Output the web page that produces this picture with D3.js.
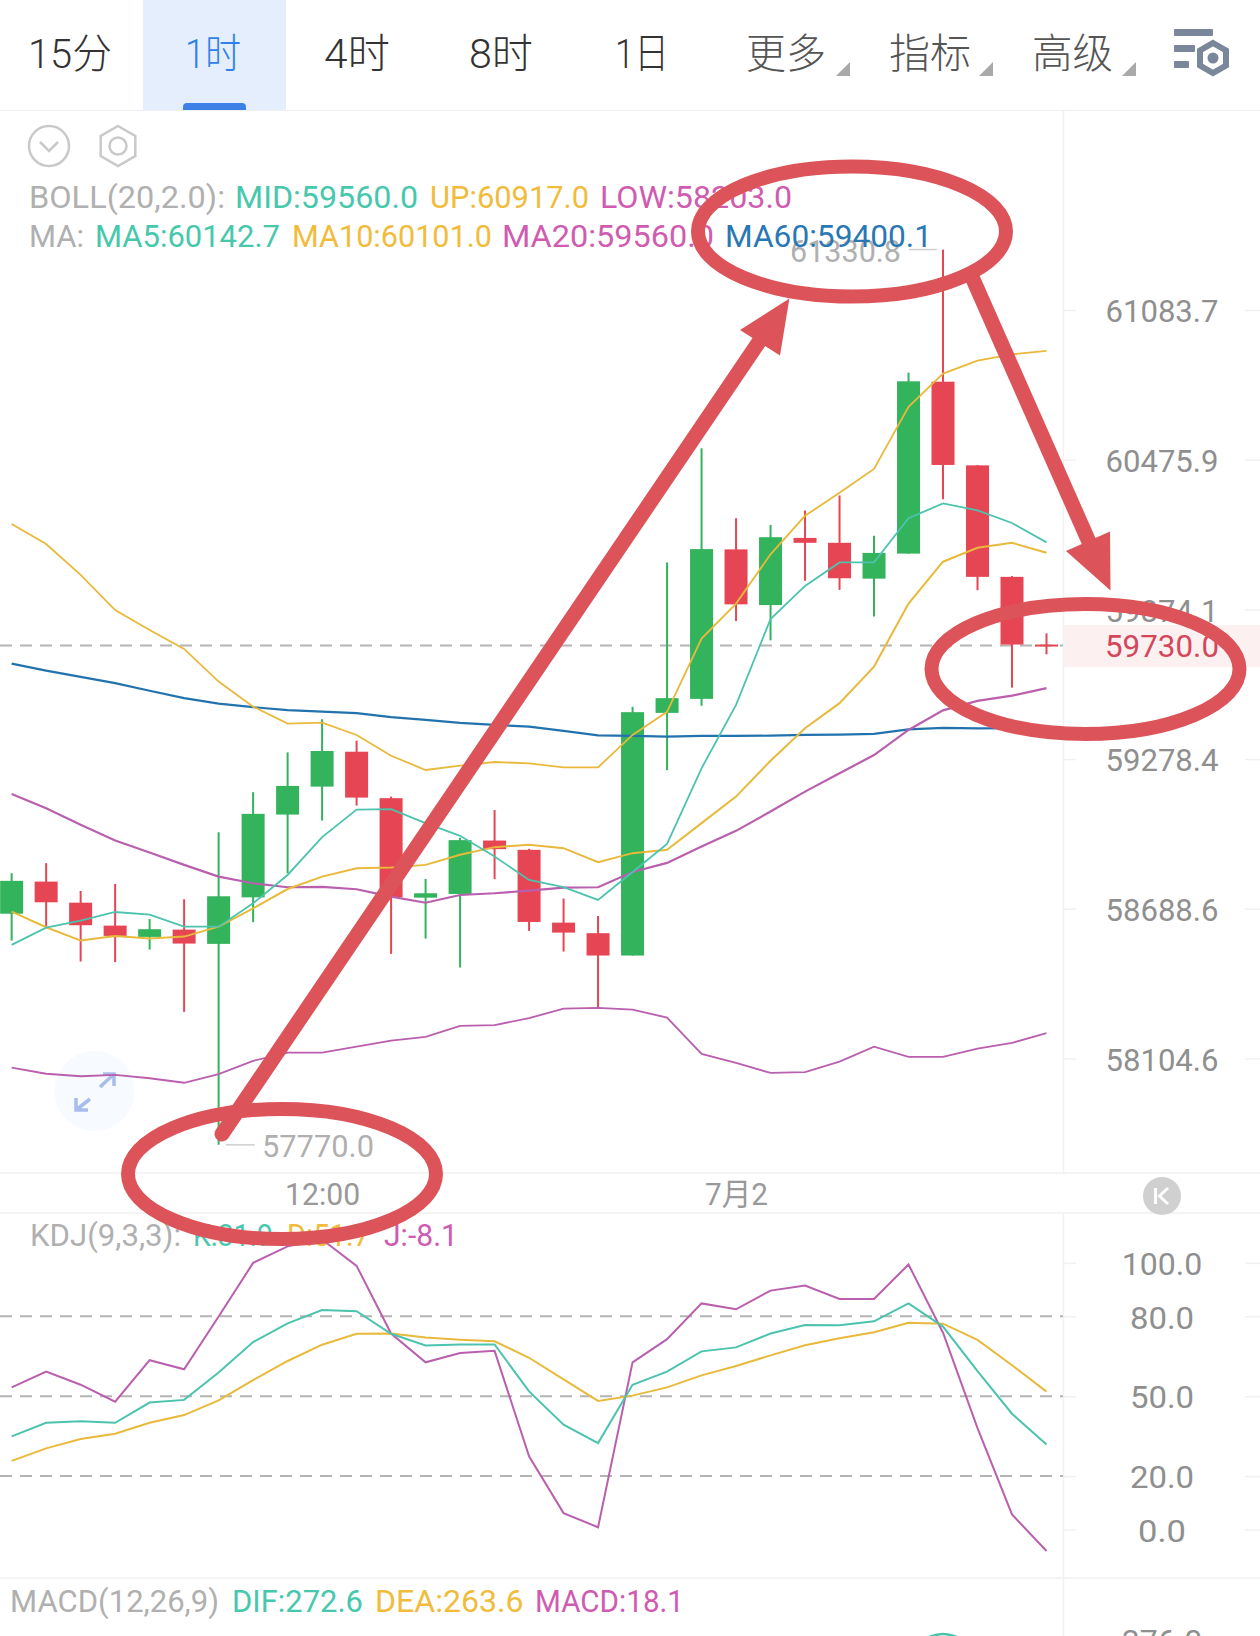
<!DOCTYPE html>
<html lang="zh">
<head>
<meta charset="utf-8">
<title>BTC 1时 K线</title>
<script src="https://cdn.jsdelivr.net/npm/d3@7"></script>
<style>
  html, body { margin: 0; padding: 0; background: #fff; overflow: hidden; }
  svg { display: block; font-family: Roboto, "Noto Sans CJK SC", sans-serif; }
  text { font-weight: 400; }
</style>
</head>
<body>
<svg id="chart" width="1260" height="1636"></svg>
<script>
// Candles, oldest first
const opens  = [58669,58795,58712.2,58622.3,58578.2,58606.7,58550.9,58733.2,59058.9,59169.3,59307.4,59123.6,58731.9,58746.5,58956.5,58919.9,58634,58592.7,58505.3,59461.5,59517.2,60114.5,59891.4,60160.7,60141,59997.1,60097.6,60791.8,60453,60004.3,59733.6];
const highs  = [58828,58867.5,58758.4,58785.9,58648.4,58725.6,58989.6,59147.2,59305,59436.4,59351.2,59129.9,58805.6,58967.1,59076.7,58923.8,58728.4,58660.1,59485.4,60062.2,60522.6,60239.9,60213,60270.9,60331.6,60169.2,60828.7,61330.8,60454.6,60007.2,59778.2];
const lows   = [58563.8,58618.4,58481.9,58479.6,58528.7,58285.7,57770,58635.6,58828.1,59035.4,59094.4,58511.9,58571.6,58458.5,58804.5,58601.6,58520.9,58301.3,58505.3,59234.3,59489.4,59827.5,59750.3,59988.7,59952.1,59845.4,60097.6,60316.3,59950.9,59562.1,59694.6];
const closes = [58798,58713.8,58623.9,58582.1,58608.3,58552.1,58737.4,59061.7,59172,59310.2,59125.9,58733.5,58749.2,58958.1,58922.6,58636.7,58595,58505.3,59464.3,59520,60115.7,59894.2,60163.5,60141,59998.7,60100.4,60793.4,60454.6,60004.3,59733.6,59730];

// Overlay studies on the price panel
const bollUp  = [60216.2,60135.8,60012.4,59871.3,59791.7,59716.1,59585.9,59486.4,59418.8,59422.8,59373.9,59291.5,59235.1,59252,59266.6,59261.5,59245.7,59245.7,59373.9,59465.5,59757.5,59897.4,60094.8,60249.6,60342,60438.5,60689.9,60824.7,60877.5,60903,60917];
const bollMid = [59140.5,59084.2,59018.4,58956.5,58909.2,58860.7,58814.6,58788.6,58772.9,58774,58765,58735.8,58712.1,58742.5,58749.2,58759.5,58771.3,58772.9,58832.7,58868.6,58932.8,58994.7,59070.8,59149.6,59222.1,59294.3,59393.8,59471.4,59509.2,59529.9,59560];
const bollLow = [58068.6,58045,58035.3,58040.4,58027.6,58010.1,58043.5,58094.9,58126.8,58126.8,58150.2,58174,58188.4,58231,58234.1,58261,58297.8,58300.9,58294.6,58263.1,58121.8,58087.2,58048.1,58051.2,58091.8,58150.2,58110.8,58110.8,58142.4,58164.6,58203];
const ma5     = [58547,58614.5,58641.8,58675.7,58665.2,58618.4,58618.4,58709.9,58821,58969.9,59078.6,59080.2,59025.1,58975,58893.5,58801.7,58772.9,58722.9,58832.7,58943.5,59241.8,59493.3,59835.5,59967.8,60062.2,60062.2,60239.9,60299.4,60271.3,60220.6,60142.7];
const ma10    = [58676.9,58616.1,58563.8,58582.1,58571.6,58579.4,58618.4,58690.2,58765.8,58814.6,58847.8,58850.1,58860.7,58900.2,58930.5,58939.6,58926.6,58871.4,58906.9,58919.9,59025.1,59129.9,59271.7,59400.6,59500.1,59645.7,59897.4,60065.1,60121.3,60141,60101];
const ma60    = [59657.6,59629.7,59604.7,59579.6,59549.4,59520,59498.5,59484.2,59472.2,59466.7,59460.3,59444.4,59433.6,59421.7,59413.7,59407,59389.8,59371.9,59369.9,59367.2,59369.9,59369.9,59371.1,59373.9,59375.1,59377.9,59395.8,59401.8,59400.2,59400.5,59400.1];

// KDJ panel
const kdjK = [34.9,40,40.6,40,47.6,48.6,58.9,70.3,77.3,82.3,81.9,73.4,69,69.4,69.4,51.8,39.3,32.4,54.3,59.2,66.8,68.3,73.5,76.7,76.6,78.1,84.8,76.1,59.4,43.4,31.9];
const kdjD = [25.7,30.4,33.9,35.9,40,42.9,48.4,56,63.2,69.3,73.4,73.5,72,71.2,70.6,64.4,56.3,48.2,50.2,53.3,57.8,61.3,65.3,69.1,71.7,74,77.5,77.2,71.1,61.6,51.7];
const kdjJ = [53.3,59.2,54.3,47.9,63.5,60.1,79.9,100,106.2,108.8,98.9,73.5,62.7,66.2,67,27.4,6.1,0.8,62.7,71.4,84.8,82.6,89.6,91.5,86.5,86.5,99.4,73.8,38,5.6,-8.1];

// MACD panel: only the crest of DIF reaches into view
const difIndex  = [26,27,28];
const difValues = [364,388,364];

// Axis labels and extremes
const priceTicks = [61083.7,60475.9,59874.1,59278.4,58688.6,58104.6];
const kdjTicks   = [100,80,50,20,0];
const kdjGuides  = [80,50,20];
const timeTicks  = [9,21];
const timeLabels = ["12:00","7月2"];
const lastPrice  = 59730;
const peakPrice  = 61330.8;
const troughPrice = 57770;
const macdTicks  = [376];
const tabs = ["15分","1时","4时","8时","1日","更多","指标","高级"];

const COLORS = {
  up: "#33b35c", down: "#e64553", teal: "#4cc3ae", amber: "#e8b93a",
  magenta: "#b95fae", blue: "#2273ad", rule: "#f1f1f1", axis: "#8f8f8f",
  muted: "#b0b0b0", guide: "#b4b4b4", ink: "#dc5459"
};
const LEGEND = { teal: "#47c8ad", amber: "#f1bc3c", magenta: "#cf5cb0", blue: "#2a78b3" };

const svg = d3.select("#chart");
const lastIndex = closes.length - 1;

const x = d3.scaleLinear().domain([0, lastIndex]).range([11.65, 1046.5]);
const y = d3.scaleLog().domain([58104.6, 61083.7]).range([1058.4, 310]);
const yK = d3.scaleLinear().domain([0, 100]).range([1529.4, 1262.9]);
const yM = d3.scaleLinear().domain([376, 388]).range([1640, 1634]);

// Writes a text squeezed into the horizontal span [x0, x1]
function label(parent, str, x0, x1, baseline, size, fill) {
  return parent.append("text")
    .attr("x", x0).attr("y", baseline)
    .attr("font-size", size).attr("fill", fill)
    .attr("textLength", x1 - x0).attr("lengthAdjust", "spacingAndGlyphs")
    .text(str);
}

/* ---------- top tab bar ---------- */
const head = svg.append("g");
head.append("rect").attr("x", 143).attr("y", 0).attr("width", 143).attr("height", 110).attr("fill", "#e4eefc");
head.append("path").attr("d", "M183 110V107a4 4 0 0 1 4-4H242a4 4 0 0 1 4 4V110Z").attr("fill", "#3d80e6");
head.append("line").attr("x1", 0).attr("x2", 1260).attr("y1", 110.5).attr("y2", 110.5).attr("stroke", "#efefef");
const tabSpans = [[28,112],[185,241],[324,390],[469,533],[615,669],[746,826],[889,971],[1032,1113]];
tabs.forEach((t, i) => {
  label(head, t, tabSpans[i][0], tabSpans[i][1], 68, 41, i === 1 ? "#2f80e8" : (i < 5 ? "#333" : "#555"))
    .style("font-weight", 300);
});
[850, 993, 1136].forEach(xr => {
  head.append("path").attr("d", `M${xr} 62V76H${xr - 14}Z`).attr("fill", "#a9a9a9");
});
const toolIcon = head.append("g").attr("fill", "#7a8699");
[[1174, 29, 39], [1174, 45, 21], [1174, 61, 15]].forEach(([bx, by, bw]) => {
  toolIcon.append("rect").attr("x", bx).attr("y", by).attr("width", bw).attr("height", 7).attr("rx", 1);
});
function hexPath(cx, cy, r) {
  return d3.line()(d3.range(6).map(k => {
    const a = Math.PI / 3 * k - Math.PI / 2;
    return [cx + r * Math.cos(a), cy + r * Math.sin(a)];
  })) + "Z";
}
toolIcon.append("path").attr("d", hexPath(1213, 58, 15)).attr("fill", "none").attr("stroke", "#7a8699").attr("stroke-width", 6);
toolIcon.append("circle").attr("cx", 1213).attr("cy", 58).attr("r", 5.5);

/* ---------- panel rules ---------- */
const rules = svg.append("g").attr("stroke", COLORS.rule).attr("stroke-width", 1.5);
[1173, 1213, 1578].forEach(ry => rules.append("line").attr("x1", 0).attr("x2", 1260).attr("y1", ry).attr("y2", ry));
rules.append("line").attr("x1", 1063.5).attr("x2", 1063.5).attr("y1", 110).attr("y2", 1173);
rules.append("line").attr("x1", 1063.5).attr("x2", 1063.5).attr("y1", 1213).attr("y2", 1636);

/* ---------- chart controls ---------- */
const ctrl = svg.append("g").attr("fill", "none").attr("stroke", "#c9c9c9").attr("stroke-width", 2.5);
ctrl.append("circle").attr("cx", 49).attr("cy", 146).attr("r", 20);
ctrl.append("path").attr("d", "M40 142L49 151L58 142");
ctrl.append("path").attr("d", hexPath(118, 146, 20));
ctrl.append("circle").attr("cx", 118).attr("cy", 146).attr("r", 8.5);

svg.append("circle").attr("cx", 94.5).attr("cy", 1091).attr("r", 40).attr("fill", "#f7faff");
svg.append("path")
  .attr("d", "M100 1087L114 1074M103 1074H114V1086M90 1099L76 1110M76 1098V1110H88")
  .attr("fill", "none").attr("stroke", "#a9bdec").attr("stroke-width", 3.5);

/* ---------- price axis ---------- */
const priceAxis = d3.axisRight(y).tickValues(priceTicks).tickFormat(d3.format(".1f")).tickSize(13).tickPadding(0);
const axisP = svg.append("g").attr("transform", "translate(1063,0)").call(priceAxis);
const kdjAxis = d3.axisRight(yK).tickValues(kdjTicks).tickFormat(d3.format(".1f")).tickSize(13).tickPadding(0);
const axisK = svg.append("g").attr("transform", "translate(1063,0)").call(kdjAxis);
const macdAxis = d3.axisRight(yM).tickValues(macdTicks).tickFormat(d3.format(".1f")).tickSize(13).tickPadding(0);
const axisM = svg.append("g").attr("transform", "translate(1063,0)").call(macdAxis);
[axisP, axisK, axisM].forEach(a => {
  a.select(".domain").remove();
  a.selectAll(".tick line").attr("stroke", COLORS.rule).attr("stroke-width", 1.5);
  a.selectAll(".tick").append("line").attr("x1", 182).attr("x2", 197)
    .attr("stroke", COLORS.rule).attr("stroke-width", 1.5);
  a.selectAll(".tick text")
    .attr("x", 99).attr("dy", "0.37em").attr("text-anchor", "middle")
    .attr("font-family", "Roboto, sans-serif").attr("font-size", 32).attr("fill", COLORS.axis)
    .attr("lengthAdjust", "spacingAndGlyphs")
    .attr("textLength", function () { return this.textContent.length * 16.3 - 1; });
});

/* ---------- last-price band and guide ---------- */
svg.append("rect").attr("x", 1064).attr("y", 625).attr("width", 196).attr("height", 42).attr("fill", "#fdf0f0");
svg.append("line").attr("x1", 0).attr("x2", 1063).attr("y1", y(lastPrice)).attr("y2", y(lastPrice))
  .attr("stroke", COLORS.guide).attr("stroke-width", 2).attr("stroke-dasharray", "12 8");
svg.append("text").attr("x", 1162).attr("y", y(lastPrice)).attr("dy", "0.37em").attr("text-anchor", "middle")
  .attr("font-size", 32).attr("fill", "#d4475a").attr("textLength", 114).attr("lengthAdjust", "spacingAndGlyphs")
  .text(d3.format(".1f")(lastPrice));

/* ---------- candles ---------- */
const candle = svg.append("g").selectAll("g").data(closes.map((c, i) => i)).join("g")
  .attr("fill", i => closes[i] >= opens[i] ? COLORS.up : COLORS.down)
  .attr("stroke", i => closes[i] >= opens[i] ? COLORS.up : COLORS.down);
candle.append("line")
  .attr("x1", i => x(i)).attr("x2", i => x(i))
  .attr("y1", i => y(highs[i])).attr("y2", i => y(lows[i]))
  .attr("stroke-width", 2);
candle.append("rect")
  .attr("x", i => x(i) - 11.5).attr("width", 23)
  .attr("y", i => y(Math.max(opens[i], closes[i])))
  .attr("height", i => Math.max(2, y(Math.min(opens[i], closes[i])) - y(Math.max(opens[i], closes[i]))))
  .attr("stroke", "none");

/* ---------- study lines ---------- */
const priceLine = d3.line().x((d, i) => x(i)).y(d => y(d));
const kdjLine = d3.line().x((d, i) => x(i)).y(d => yK(d));
[[ma60, COLORS.blue, 2.2], [bollUp, COLORS.amber, 1.8], [bollLow, COLORS.magenta, 1.8],
 [bollMid, COLORS.magenta, 2.2], [ma10, COLORS.amber, 2], [ma5, COLORS.teal, 1.8]].forEach(([vals, col, w]) => {
  svg.append("path").attr("d", priceLine(vals)).attr("fill", "none").attr("stroke", col).attr("stroke-width", w);
});

/* ---------- extreme markers ---------- */
svg.append("line").attr("x1", x(27) - 34).attr("x2", x(27) - 6).attr("y1", y(peakPrice)).attr("y2", y(peakPrice)).attr("stroke", "#cfcfcf").attr("stroke-width", 1.5);
label(svg, d3.format(".1f")(peakPrice), 790, 901, 262, 31, COLORS.muted);
svg.append("line").attr("x1", x(6) + 7).attr("x2", x(6) + 36).attr("y1", y(troughPrice)).attr("y2", y(troughPrice)).attr("stroke", "#cfcfcf").attr("stroke-width", 1.5);
label(svg, d3.format(".1f")(troughPrice), 262, 374, 1157, 31, COLORS.muted);

/* ---------- legends ---------- */
const legend = svg.append("g");
[
  ["BOLL(20,2.0):", 29, 225, 208, COLORS.muted],
  ["MID:59560.0", 235, 418, 208, LEGEND.teal],
  ["UP:60917.0", 430, 589, 208, LEGEND.amber],
  ["LOW:58203.0", 600, 792, 208, LEGEND.magenta],
  ["MA:", 29, 84, 247, COLORS.muted],
  ["MA5:60142.7", 95, 280, 247, LEGEND.teal],
  ["MA10:60101.0", 292, 492, 247, LEGEND.amber],
  ["MA20:59560.0", 502, 714, 247, LEGEND.magenta],
  ["MA60:59400.1", 725, 932, 247, LEGEND.blue],
  ["KDJ(9,3,3):", 30, 181, 1246, COLORS.muted],
  ["K:31.9", 193, 273, 1246, LEGEND.teal],
  ["D:51.7", 287, 370, 1246, LEGEND.amber],
  ["J:-8.1", 384, 458, 1246, LEGEND.magenta],
  ["MACD(12,26,9)", 10, 219, 1612, COLORS.muted],
  ["DIF:272.6", 232, 363, 1612, LEGEND.teal],
  ["DEA:263.6", 375, 523.5, 1612, LEGEND.amber],
  ["MACD:18.1", 535, 684, 1612, LEGEND.magenta]
].forEach(([t, a, b, base, col]) => label(legend, t, a, b, base, 32, col));

/* ---------- time axis ---------- */
const timeAxis = d3.axisBottom(x).tickValues(timeTicks).tickFormat((d, i) => timeLabels[i]).tickSize(0).tickPadding(0);
const axisT = svg.append("g").attr("transform", "translate(0,1178)").call(timeAxis);
axisT.select(".domain").remove();
axisT.selectAll(".tick text").attr("y", 27).attr("dy", 0).attr("font-size", 31)
  .attr("font-family", 'Roboto, "Noto Sans CJK SC", sans-serif').attr("fill", "#999")
  .attr("lengthAdjust", "spacingAndGlyphs").attr("textLength", (d, i) => i === 0 ? 75 : 63);
svg.append("circle").attr("cx", 1162).attr("cy", 1196).attr("r", 19).attr("fill", "#d0d0d0");
svg.append("path").attr("d", "M1155.5 1188V1204M1168 1188L1159.5 1196L1168 1204").attr("fill", "none").attr("stroke", "#fff").attr("stroke-width", 3);

/* ---------- KDJ panel ---------- */
kdjGuides.forEach(g => {
  svg.append("line").attr("x1", 0).attr("x2", 1063).attr("y1", yK(g)).attr("y2", yK(g))
    .attr("stroke", COLORS.guide).attr("stroke-width", 2).attr("stroke-dasharray", "12 8");
});
[[kdjJ, COLORS.magenta], [kdjD, COLORS.amber], [kdjK, COLORS.teal]].forEach(([vals, col]) => {
  svg.append("path").attr("d", kdjLine(vals)).attr("fill", "none").attr("stroke", col).attr("stroke-width", 2);
});

/* ---------- MACD panel ---------- */
svg.append("path")
  .attr("d", d3.line().x((d, i) => x(difIndex[i])).y(d => yM(d)).curve(d3.curveCatmullRom)(difValues))
  .attr("fill", "none").attr("stroke", COLORS.teal).attr("stroke-width", 2.5);

/* ---------- hand-drawn markup ---------- */
const ink = svg.append("g");
[[852, 231.5], [1085.5, 669], [282, 1174]].forEach(([cx, cy]) => {
  ink.append("ellipse").attr("cx", cx).attr("cy", cy).attr("rx", 154).attr("ry", 65)
    .attr("fill", "none").attr("stroke", COLORS.ink).attr("stroke-width", 14);
});
ink.append("line").attr("x1", 222).attr("y1", 1134).attr("x2", 765).attr("y2", 333)
  .attr("stroke", COLORS.ink).attr("stroke-width", 15).attr("stroke-linecap", "round");
ink.append("path").attr("d", "M789.4 298.4L740 330L780 355.6Z").attr("fill", COLORS.ink);
ink.append("line").attr("x1", 972).attr("y1", 277).attr("x2", 1097).attr("y2", 560)
  .attr("stroke", COLORS.ink).attr("stroke-width", 15);
ink.append("path").attr("d", "M1110.5 590.6L1066 551L1110 531.6Z").attr("fill", COLORS.ink);
</script>
</body>
</html>
